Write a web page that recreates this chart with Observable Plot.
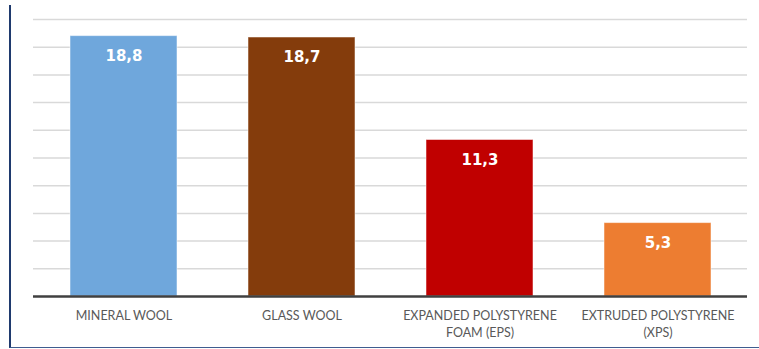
<!DOCTYPE html>
<html>
<head>
<meta charset="utf-8">
<script src="https://cdn.jsdelivr.net/npm/d3@7"></script>
<script src="https://cdn.jsdelivr.net/npm/@observablehq/plot@0.6"></script>
<style>
  html, body { margin: 0; padding: 0; background: #fff; }
  #wrap { position: relative; width: 759px; height: 349px; }
  #wrap svg { position: absolute; left: 0; top: 0; }
  #edge {
    position: absolute; left: 9px; top: 5px; width: 750px; height: 342px;
    border-left: 2px solid #1f3a6e; border-bottom: 1px solid #3f5d8f;
    box-sizing: content-box; pointer-events: none;
  }
</style>
</head>
<body>
<div id="wrap"><div id="edge"></div></div>
<script>
// Insulation materials and their values
const categories = ["MINERAL WOOL", "GLASS WOOL", "EXPANDED POLYSTYRENE FOAM (EPS)", "EXTRUDED POLYSTYRENE (XPS)"];
const tickLabels = ["MINERAL WOOL", "GLASS WOOL", "EXPANDED POLYSTYRENE\nFOAM (EPS)", "EXTRUDED POLYSTYRENE\n(XPS)"];
const values = [18.8, 18.7, 11.3, 5.3];
const colors = ["#6fa7dc", "#843c0c", "#c00000", "#ed7d31"];
const gridTicks = [2, 4, 6, 8, 10, 12, 14, 16, 18, 20];

const data = categories.map((c, i) => ({category: c, value: values[i], color: colors[i]}));
const labelOf = new Map(categories.map((c, i) => [c, tickLabels[i]]));
const fmt = v => v.toFixed(1).replace(".", ",");

const chart = Plot.plot({
  width: 759,
  height: 349,
  marginLeft: 33,
  marginRight: 12,
  marginTop: 19,
  marginBottom: 53,
  style: {fontFamily: "Lato, sans-serif", background: "transparent"},
  x: {domain: categories, paddingInner: 0.4, paddingOuter: 0.2, label: null},
  y: {domain: [0, 20], axis: null},
  marks: [
    Plot.ruleY(gridTicks, {stroke: "#d9d9d9", strokeWidth: 1.5}),
    Plot.barY(data, {x: "category", y: "value", fill: "color", stroke: "#ffffff", strokeOpacity: 0.5, strokeWidth: 1}),
    Plot.ruleY([0], {stroke: "#404040", strokeWidth: 2.5}),
    Plot.text(data, {
      x: "category", y: "value", text: d => fmt(d.value), dy: 20,
      fill: "white", fontWeight: "bold", fontSize: 15,
      fontFamily: "DejaVu Sans, Verdana, sans-serif"
    }),
    Plot.axisX({
      tickSize: 0, tickPadding: 11, fontSize: 12.5, fill: "#595959",
      lineHeight: 1.4, tickFormat: c => labelOf.get(c), label: null
    })
  ]
});

document.getElementById("wrap").prepend(chart);
</script>
</body>
</html>
